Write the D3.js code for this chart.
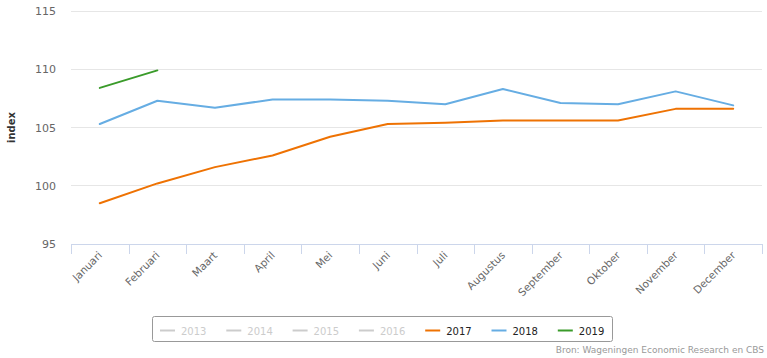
<!DOCTYPE html>
<html><head><meta charset="utf-8">
<script src="https://cdn.jsdelivr.net/npm/d3@7"></script>
<style>body{margin:0;background:#fff;} text{font-family:"DejaVu Sans",Verdana,sans-serif;}</style>
</head><body>
<svg id="c" width="767" height="358"></svg>
<script>
const months = ["Januari","Februari","Maart","April","Mei","Juni","Juli","Augustus","September","Oktober","November","December"];
const yTicks = [95,100,105,110,115];
const s2017 = [98.5,100.2,101.6,102.6,104.2,105.3,105.4,105.6,105.6,105.6,106.6,106.6];
const s2018 = [105.3,107.3,106.7,107.4,107.4,107.3,107.0,108.3,107.1,107.0,108.1,106.9];
const s2019 = [108.4,109.9];
const legendYears = ["2013","2014","2015","2016","2017","2018","2019"];
const legendColors = ["#cccccc","#cccccc","#cccccc","#cccccc","#ee7203","#66ade3","#3a9b2a"];
const legendActive = [false,false,false,false,true,true,true];
const series = [
  {name:"2017", values:s2017, color:"#ee7203"},
  {name:"2018", values:s2018, color:"#66ade3"},
  {name:"2019", values:s2019, color:"#3a9b2a"}
];

const svg = d3.select("#c");
const L = 71, R = 762, T = 11, B = 244;
const x = d3.scaleBand().domain(months).range([L,R]).padding(0);
const y = d3.scaleLinear().domain([95,115]).range([B,T]);

// gridlines
svg.append("g").selectAll("line").data(yTicks.filter(d=>d!==95)).join("line")
  .attr("x1",L).attr("x2",R).attr("y1",d=>y(d)).attr("y2",d=>y(d))
  .attr("stroke","#e6e6e6").attr("stroke-width",1).attr("shape-rendering","crispEdges");

// y labels
svg.append("g").selectAll("text").data(yTicks).join("text")
  .attr("x",56).attr("y",d=>y(d)+4).attr("text-anchor","end")
  .attr("fill","#666").style("font-size","11px").text(d=>d);

// y title
svg.append("text").attr("transform",`translate(15,${(T+B)/2}) rotate(-90)`)
  .attr("text-anchor","middle").attr("fill","#333").style("font-size","10px").style("font-weight","bold").text("index");

// x axis line and ticks
svg.append("line").attr("x1",L).attr("x2",R).attr("y1",B+0.5).attr("y2",B+0.5).attr("stroke","#ccd6eb");
const tickPos = months.map(m=>x(m)).concat([R]);
svg.append("g").selectAll("line").data(tickPos).join("line")
  .attr("x1",d=>Math.round(d)+0.5).attr("x2",d=>Math.round(d)+0.5).attr("y1",B).attr("y2",B+10)
  .attr("stroke","#ccd6eb");

// x labels
svg.append("g").selectAll("text").data(months).join("text")
  .attr("transform",d=>`translate(${x(d)+x.bandwidth()/2+3},${B+12}) rotate(-45)`)
  .attr("text-anchor","end").attr("fill","#666").style("font-size","10.5px").text(d=>d);

// lines
const line = d3.line().x((d,i)=>x(months[i])+x.bandwidth()/2).y(d=>y(d));
svg.append("g").selectAll("path").data(series).join("path")
  .attr("d",d=>line(d.values)).attr("fill","none").attr("stroke",d=>d.color)
  .attr("stroke-width",2).attr("stroke-linejoin","round").attr("stroke-linecap","round");

// legend
svg.append("rect").attr("x",152.5).attr("y",316.5).attr("width",460).attr("height",25)
  .attr("rx",2).attr("fill","#fff").attr("stroke","#999");
const lg = svg.append("g").selectAll("g").data(legendYears).join("g")
  .attr("transform",(d,i)=>`translate(${160+i*66.3},0)`);
lg.append("line").attr("x1",0).attr("x2",15).attr("y1",330.5).attr("y2",330.5)
  .attr("stroke",(d,i)=>legendColors[i]).attr("stroke-width",2);
lg.append("text").attr("x",21).attr("y",334.5).style("font-size","10px")
  .attr("fill",(d,i)=>legendActive[i]?"#222":"#cccccc").text(d=>d);

// source
svg.append("text").attr("x",764).attr("y",353).attr("text-anchor","end")
  .attr("fill","#999").style("font-size","9px").text("Bron: Wageningen Economic Research en CBS");
</script>
</body></html>
